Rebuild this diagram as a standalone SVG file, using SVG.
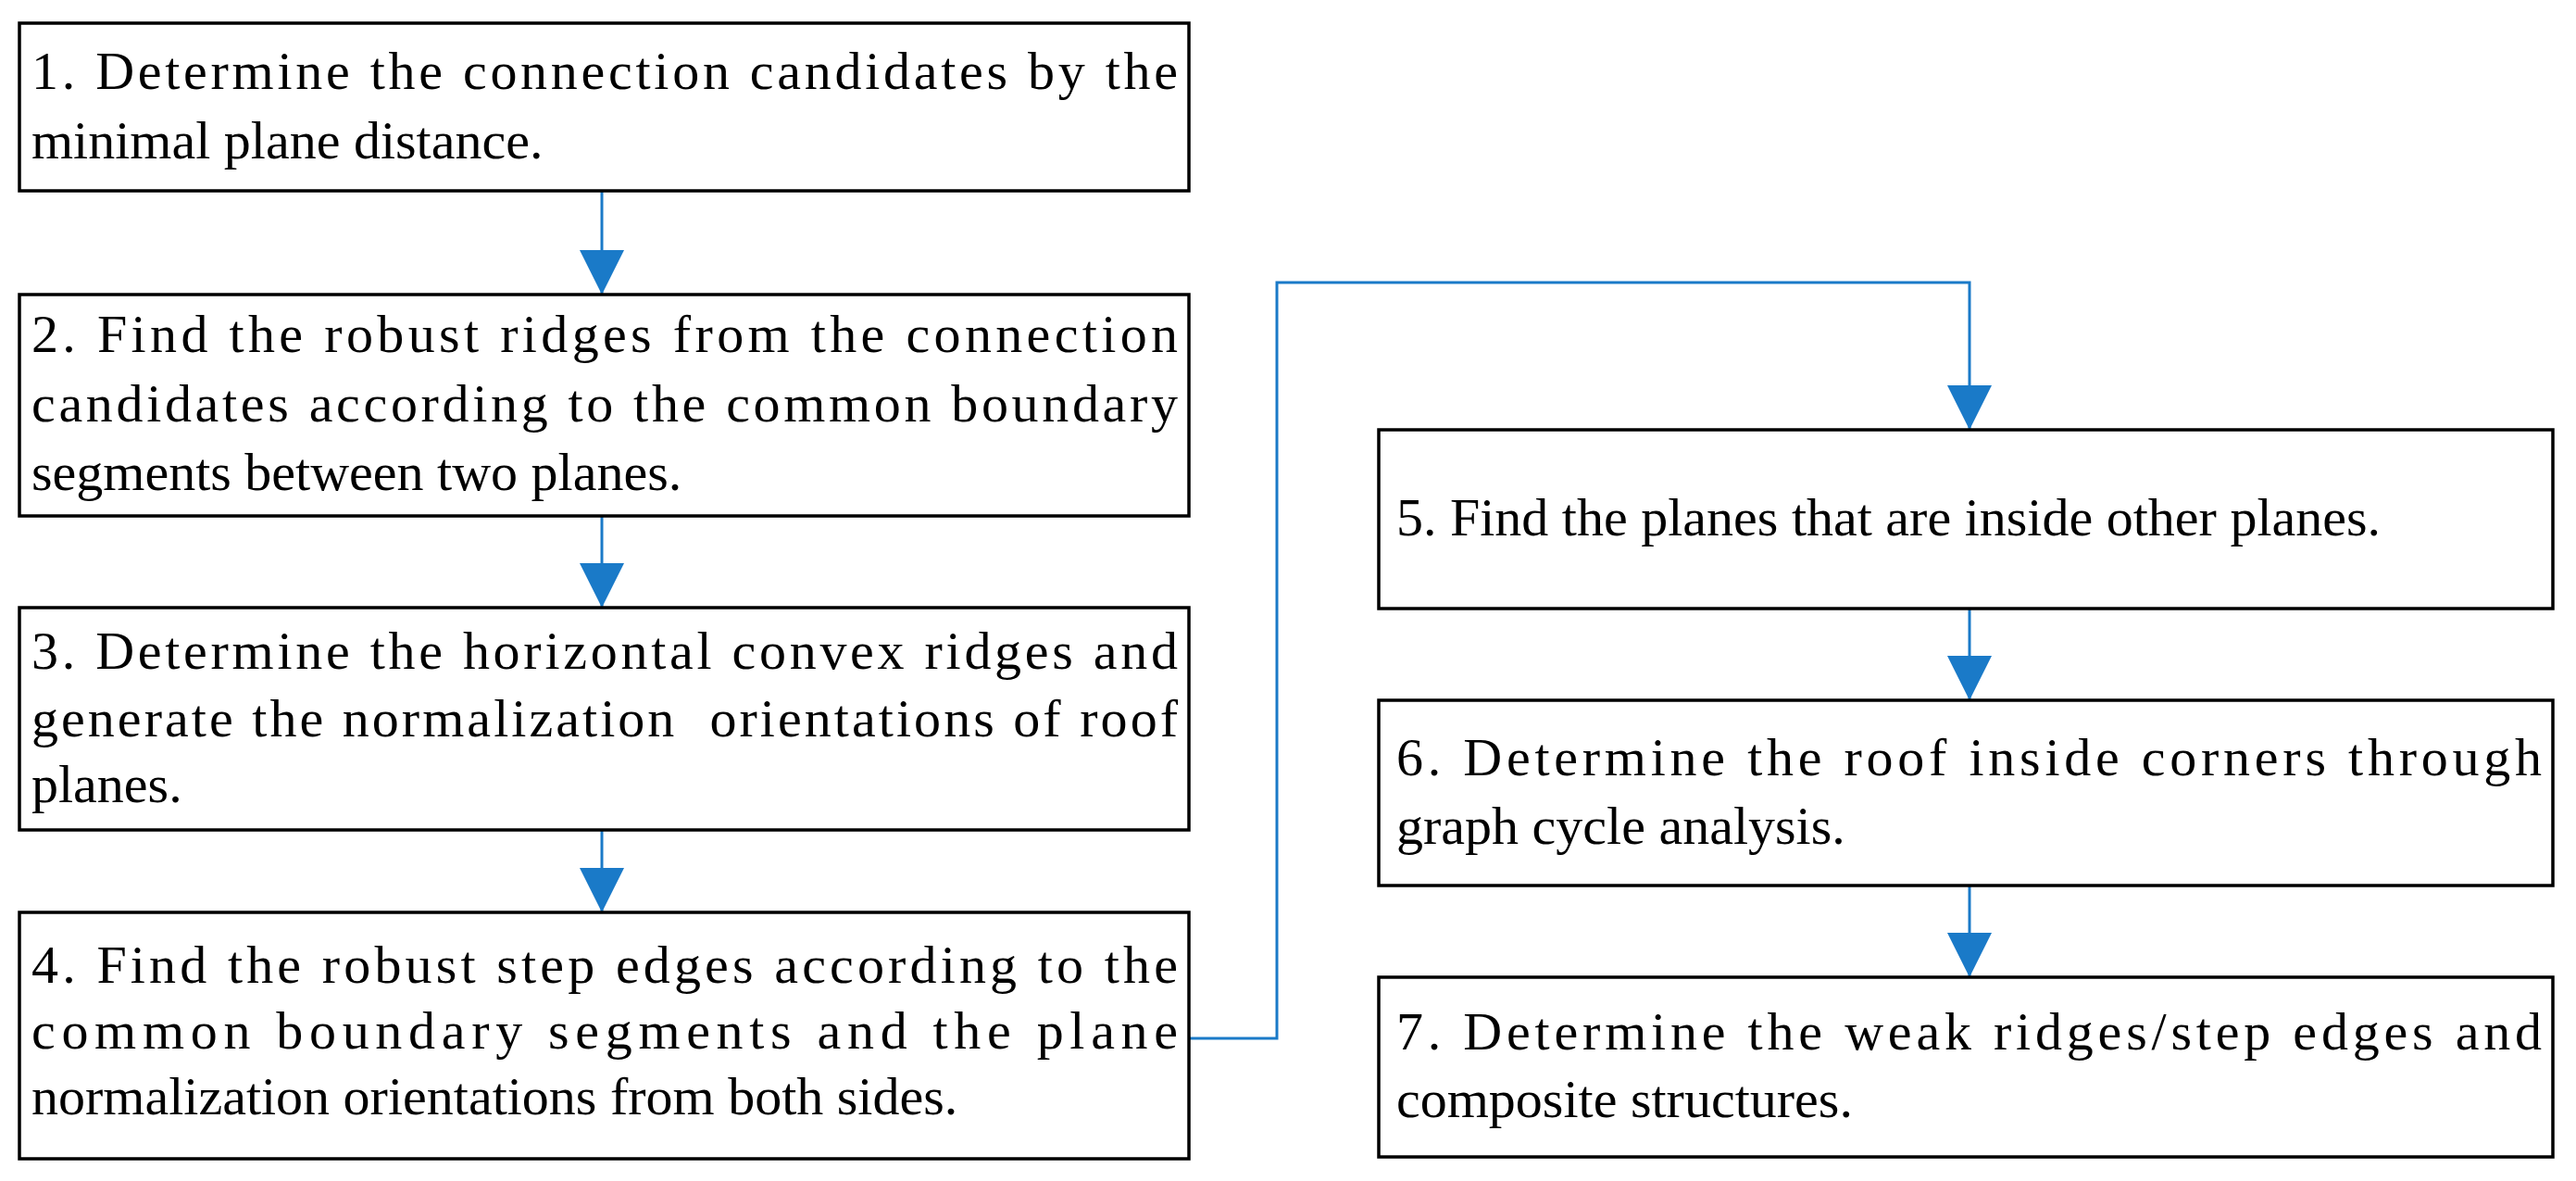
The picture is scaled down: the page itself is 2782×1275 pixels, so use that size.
<svg xmlns="http://www.w3.org/2000/svg" width="2782" height="1275" viewBox="0 0 2782 1275">
<style>
rect{fill:#fff;stroke:#000;stroke-width:3.5}
text{font-family:"Liberation Serif","Times New Roman",serif;font-size:58px;fill:#000}
.c{fill:none;stroke:#1a7ac8;stroke-width:3}
</style>
<defs><marker id="a" markerUnits="userSpaceOnUse" markerWidth="50" markerHeight="48" refX="48" refY="24" orient="auto"><path d="M0,0 L48,24 L0,48 Z" fill="#1a7ac8"/></marker></defs>
<rect width="2782" height="1275" style="stroke:none"/>
<g id="connectors">
<path class="c" d="M650,206 V318" marker-end="url(#a)"/>
<path class="c" d="M650,557 V656" marker-end="url(#a)"/>
<path class="c" d="M650,896 V985" marker-end="url(#a)"/>
<path class="c" d="M1284,1121 H1379 V305 H2127 V464" marker-end="url(#a)"/>
<path class="c" d="M2127,657 V756" marker-end="url(#a)"/>
<path class="c" d="M2127,956 V1055" marker-end="url(#a)"/>
</g>
<g id="n1"><rect x="21" y="25" width="1263" height="181"/>
<text x="34" y="96" textLength="1238" lengthAdjust="spacing">1. Determine the connection candidates by the</text>
<text x="34" y="171">minimal plane distance.</text></g>
<g id="n2"><rect x="21" y="318" width="1263" height="239"/>
<text x="34" y="380" textLength="1238" lengthAdjust="spacing">2. Find the robust ridges from the connection</text>
<text x="34" y="455" textLength="1238" lengthAdjust="spacing">candidates according to the common boundary</text>
<text x="34" y="529">segments between two planes.</text></g>
<g id="n3"><rect x="21" y="656" width="1263" height="240"/>
<text x="34" y="722" textLength="1238" lengthAdjust="spacing">3. Determine the horizontal convex ridges and</text>
<text x="34" y="795" textLength="1238" lengthAdjust="spacing" xml:space="preserve">generate the normalization  orientations of roof</text>
<text x="34" y="866">planes.</text></g>
<g id="n4"><rect x="21" y="985" width="1263" height="266"/>
<text x="34" y="1061" textLength="1238" lengthAdjust="spacing">4. Find the robust step edges according to the</text>
<text x="34" y="1132" textLength="1238" lengthAdjust="spacing">common boundary segments and the plane</text>
<text x="34" y="1203">normalization orientations from both sides.</text></g>
<g id="n5"><rect x="1489" y="464" width="1268" height="193"/>
<text x="1508" y="578">5. Find the planes that are inside other planes.</text></g>
<g id="n6"><rect x="1489" y="756" width="1268" height="200"/>
<text x="1508" y="837" textLength="1237" lengthAdjust="spacing">6. Determine the roof inside corners through</text>
<text x="1508" y="911">graph cycle analysis.</text></g>
<g id="n7"><rect x="1489" y="1055" width="1268" height="194"/>
<text x="1508" y="1133" textLength="1237" lengthAdjust="spacing">7. Determine the weak ridges/step edges and</text>
<text x="1508" y="1206">composite structures.</text></g>
</svg>
